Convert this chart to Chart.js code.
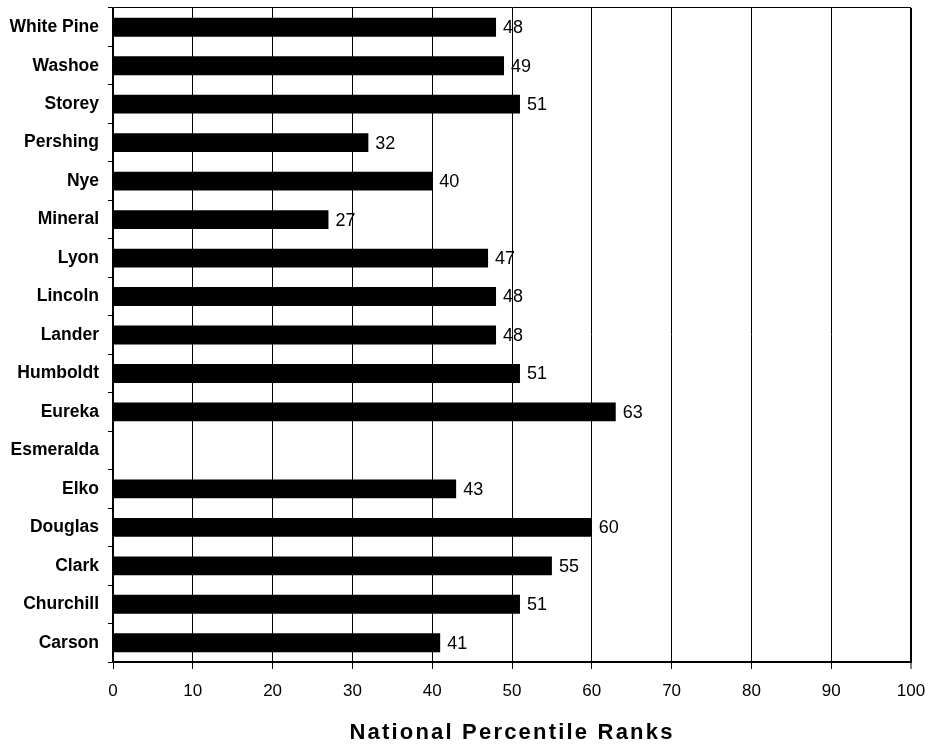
<!DOCTYPE html>
<html>
<head>
<meta charset="utf-8">
<script src="https://cdn.jsdelivr.net/npm/chart.js@4/dist/chart.umd.min.js"></script>
<style>
  html, body { margin: 0; padding: 0; background: #ffffff; }
  canvas { display: block; }
</style>
</head>
<body>
<canvas id="chart" width="931" height="744"></canvas>
<script>
// Nevada counties and their national percentile ranks
const counties = ['White Pine', 'Washoe', 'Storey', 'Pershing', 'Nye', 'Mineral', 'Lyon',
  'Lincoln', 'Lander', 'Humboldt', 'Eureka', 'Esmeralda', 'Elko', 'Douglas', 'Clark',
  'Churchill', 'Carson'];
const percentileRanks = [48, 49, 51, 32, 40, 27, 47, 48, 48, 51, 63, null, 43, 60, 55, 51, 41];
const rankTicks = [0, 10, 20, 30, 40, 50, 60, 70, 80, 90, 100];
const axisTitle = 'National Percentile Ranks';

const FONT = '"Liberation Sans", Arial, Helvetica, sans-serif';

// Writes each bar's value just past its end
const valueLabels = {
  id: 'valueLabels',
  afterDatasetsDraw(chart) {
    const ctx = chart.ctx;
    const meta = chart.getDatasetMeta(0);
    ctx.save();
    ctx.fillStyle = '#000';
    ctx.font = '18px ' + FONT;
    ctx.textAlign = 'left';
    ctx.textBaseline = 'middle';
    meta.data.forEach((bar, i) => {
      const v = chart.data.datasets[0].data[i];
      if (v === null || v === undefined) return;
      ctx.fillText(String(v), bar.x + 7, bar.y + 1);
    });
    ctx.restore();
  }
};

// Slightly spaced lettering for the x-axis title
const spacedTitle = {
  id: 'spacedTitle',
  beforeDraw(chart) {
    const s = chart.scales.x;
    if (s && !s.__spaced) {
      const orig = s.drawTitle.bind(s);
      s.drawTitle = function () {
        const c = this.ctx;
        c.save();
        c.letterSpacing = '2.2px';
        orig();
        c.restore();
      };
      s.__spaced = true;
    }
  }
};

new Chart(document.getElementById('chart'), {
  type: 'bar',
  data: {
    labels: counties,
    datasets: [{
      data: percentileRanks,
      backgroundColor: '#000',
      borderWidth: 0,
      barPercentage: 0.49,
      categoryPercentage: 1.0
    }]
  },
  options: {
    indexAxis: 'y',
    responsive: false,
    animation: false,
    devicePixelRatio: 1,
    layout: { padding: { top: 8, right: 20, left: 0, bottom: 0 } },
    plugins: {
      legend: { display: false },
      tooltip: { enabled: false }
    },
    scales: {
      x: {
        type: 'linear',
        min: 0,
        max: 100,
        afterBuildTicks(scale) {
          scale.ticks = rankTicks.map(v => ({ value: v }));
        },
        afterFit(scale) {
          scale.height = 82;
          scale.paddingLeft = 0;
          scale.paddingRight = 0;
        },
        grid: {
          color: '#000',
          lineWidth: ctx => (ctx.tick && ctx.tick.value === 100 ? 2 : 1),
          tickColor: '#000',
          tickLength: 7,
          tickWidth: 1
        },
        border: { display: true, color: '#000', width: 2 },
        ticks: {
          color: '#000',
          padding: 12,
          font: { family: FONT, size: 17 },
          maxRotation: 0
        },
        title: {
          display: true,
          text: axisTitle,
          color: '#000',
          font: { family: FONT, size: 22, weight: 'bold', lineHeight: 1 },
          padding: { top: 0, bottom: 0 }
        }
      },
      y: {
        type: 'category',
        afterFit(scale) {
          scale.width = 113;
          scale.paddingTop = 0;
          scale.paddingBottom = 0;
        },
        grid: {
          offset: true,
          color: ctx => (ctx.index === 0 ? '#000' : 'rgba(0,0,0,0)'),
          tickColor: '#000',
          tickLength: 5,
          lineWidth: 1
        },
        border: { display: true, color: '#000', width: 1.5 },
        ticks: {
          color: '#000',
          padding: 9,
          font: { family: FONT, size: 17.5, weight: 'bold' }
        }
      }
    }
  },
  plugins: [valueLabels, spacedTitle]
});
</script>
</body>
</html>
